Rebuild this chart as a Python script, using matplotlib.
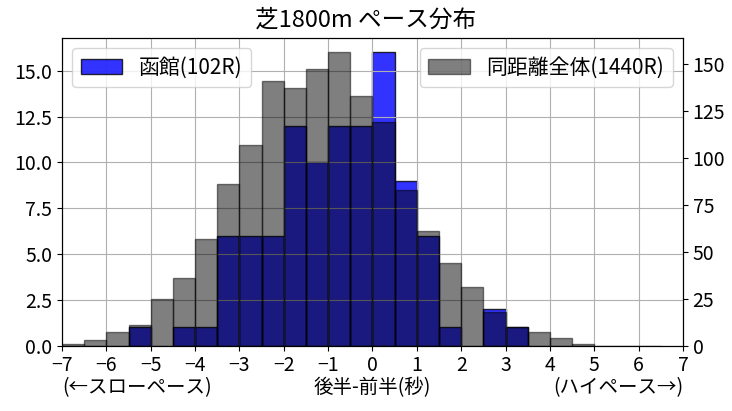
import numpy as np
import matplotlib
matplotlib.use("Agg")
import matplotlib.pyplot as plt

plt.rcParams['font.family'] = ['Noto Sans CJK JP', 'DejaVu Sans']

# bin edges (seconds, 後半-前半)
bin_left = [-7.0, -6.5, -6.0, -5.5, -5.0, -4.5, -4.0, -3.5, -3.0, -2.5, -2.0, -1.5, -1.0,
            -0.5, 0.0, 0.5, 1.0, 1.5, 2.0, 2.5, 3.0, 3.5, 4.0, 4.5, 5.0, 5.5, 6.0]
bin_width = 0.5

# 函館 counts (left axis)
hakodate = [0, 0, 0, 1, 0, 1, 1, 6, 6, 6, 12, 10, 12, 12, 16, 9, 6, 1, 0, 2, 1, 0, 0, 0, 0, 0, 0]
# 同距離全体 counts (right axis)
overall = [1, 3, 7, 11, 25, 36, 57, 86, 107, 141, 137, 147, 156, 133, 119, 83, 61, 44, 31, 18,
           10, 7, 4, 1, 0, 0, 0]

label_h = '函館(102R)'
label_o = '同距離全体(1440R)'
title = '芝1800m ペース分布'
xticks = list(range(-7, 8))

fig = plt.figure(figsize=(7.32, 4.11), dpi=100)
ax1 = fig.add_axes([0.0847, 0.159, 0.8483, 0.749])
ax2 = ax1.twinx()

# blue (only non-empty bins)
hx = [x for x, v in zip(bin_left, hakodate) if v > 0]
hv = [v for v in hakodate if v > 0]
ax1.bar(hx, hv, width=bin_width, align='edge', color='blue', alpha=0.8,
        edgecolor='black', linewidth=1, label=label_h)
ax2.bar(bin_left, overall, width=bin_width, align='edge', color='black', alpha=0.5,
        edgecolor='black', linewidth=1, label=label_o)

ax1.set_xlim(-7, 7)
ax1.set_ylim(0, max(hakodate) * 1.05)
ax2.set_ylim(0, max(overall) * 1.05)
ax1.set_xticks(xticks)
ax1.set_yticks(np.arange(0, 15.01, 2.5))
ax1.set_yticklabels([f'{v:.1f}' for v in np.arange(0, 15.01, 2.5)])
ax2.set_yticks(range(0, 151, 25))
ax1.grid(True)

for ax in (ax1, ax2):
    ax.tick_params(labelsize=14)

ax1.legend(loc='upper left', fontsize=15)
ax2.legend(loc='upper right', fontsize=15)

fig.text(0.5, 0.95, title, ha='center', va='center', fontsize=17)
ax1.text(0.5, -0.135, '後半-前半(秒)', transform=ax1.transAxes, ha='center', va='center', fontsize=14)
ax1.text(0.0, -0.135, '(←スローペース)', transform=ax1.transAxes, ha='left', va='center', fontsize=14)
ax1.text(1.0, -0.135, '(ハイペース→)', transform=ax1.transAxes, ha='right', va='center', fontsize=14)

fig.savefig('out.png', dpi=100)
